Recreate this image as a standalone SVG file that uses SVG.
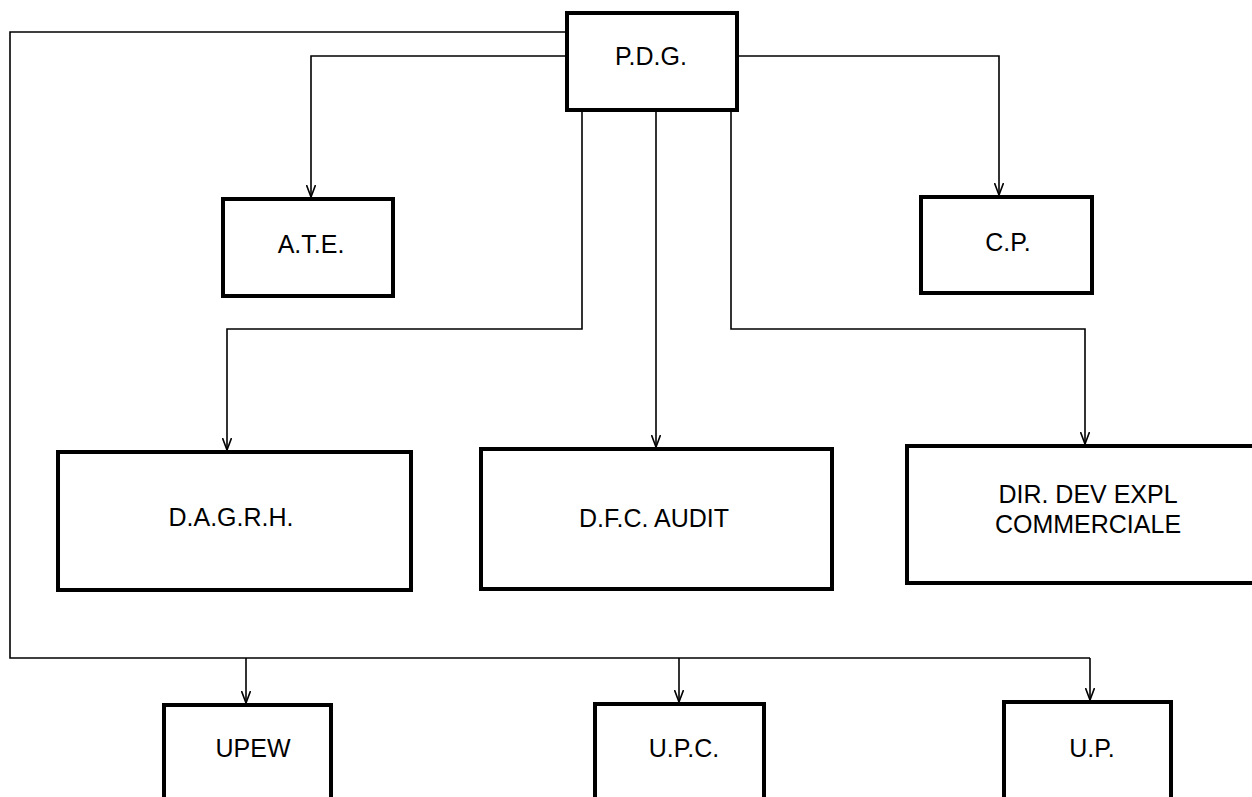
<svg xmlns="http://www.w3.org/2000/svg" width="1252" height="797" viewBox="0 0 1252 797">
  <style>
    .box { fill: #ffffff; stroke: #000000; stroke-width: 4; }
    .lbl { font-family: "Liberation Sans", Arial, sans-serif; font-size: 25px; fill: #000000; text-anchor: middle; }
    .conn { fill: none; stroke: #000000; stroke-width: 1.6; }
  </style>
  <defs>
    <marker id="arr" viewBox="0 0 12 10" refX="12" refY="5" markerWidth="12" markerHeight="10" markerUnits="userSpaceOnUse" orient="auto">
      <path d="M0,0.5 L12,5 L0,9.5" fill="none" stroke="#000000" stroke-width="1.6"/>
    </marker>
  </defs>
  <rect width="1252" height="797" fill="#ffffff"/>

  <g id="connectors">
    <polyline class="conn" points="567,32 10,32 10,658 1090,658"/>
    <line class="conn" x1="246" y1="658" x2="246" y2="703" marker-end="url(#arr)"/>
    <line class="conn" x1="679" y1="658" x2="679" y2="702" marker-end="url(#arr)"/>
    <line class="conn" x1="1090" y1="658" x2="1090" y2="700" marker-end="url(#arr)"/>
    <polyline class="conn" points="567,56 311,56 311,197" marker-end="url(#arr)"/>
    <polyline class="conn" points="737,56 999,56 999,195" marker-end="url(#arr)"/>
    <polyline class="conn" points="582,110 582,329 227,329 227,450" marker-end="url(#arr)"/>
    <line class="conn" x1="656" y1="110" x2="656" y2="447" marker-end="url(#arr)"/>
    <polyline class="conn" points="731,110 731,329 1085,329 1085,444" marker-end="url(#arr)"/>
  </g>

  <g id="pdg">
    <rect class="box" x="567" y="13" width="170" height="97"/>
    <text class="lbl" x="651" y="65" font-size="24">P.D.G.</text>
  </g>
  <g id="ate">
    <rect class="box" x="223" y="199" width="170" height="97"/>
    <text class="lbl" x="311" y="253">A.T.E.</text>
  </g>
  <g id="cp">
    <rect class="box" x="921" y="197" width="171" height="96"/>
    <text class="lbl" x="1008" y="251">C.P.</text>
  </g>
  <g id="dagrh">
    <rect class="box" x="58" y="452" width="353" height="138"/>
    <text class="lbl" x="231" y="526">D.A.G.R.H.</text>
  </g>
  <g id="dfc">
    <rect class="box" x="481" y="449" width="351" height="140"/>
    <text class="lbl" x="654" y="527">D.F.C. AUDIT</text>
  </g>
  <g id="dir">
    <rect class="box" x="907" y="446" width="350" height="137"/>
    <text class="lbl" x="1088" y="503">DIR. DEV EXPL</text>
    <text class="lbl" x="1088" y="533">COMMERCIALE</text>
  </g>
  <g id="upew">
    <rect class="box" x="164" y="705" width="167" height="100"/>
    <text class="lbl" x="253" y="757">UPEW</text>
  </g>
  <g id="upc">
    <rect class="box" x="595" y="704" width="169" height="100"/>
    <text class="lbl" x="684" y="757">U.P.C.</text>
  </g>
  <g id="up">
    <rect class="box" x="1004" y="702" width="167" height="100"/>
    <text class="lbl" x="1092" y="757">U.P.</text>
  </g>
</svg>
